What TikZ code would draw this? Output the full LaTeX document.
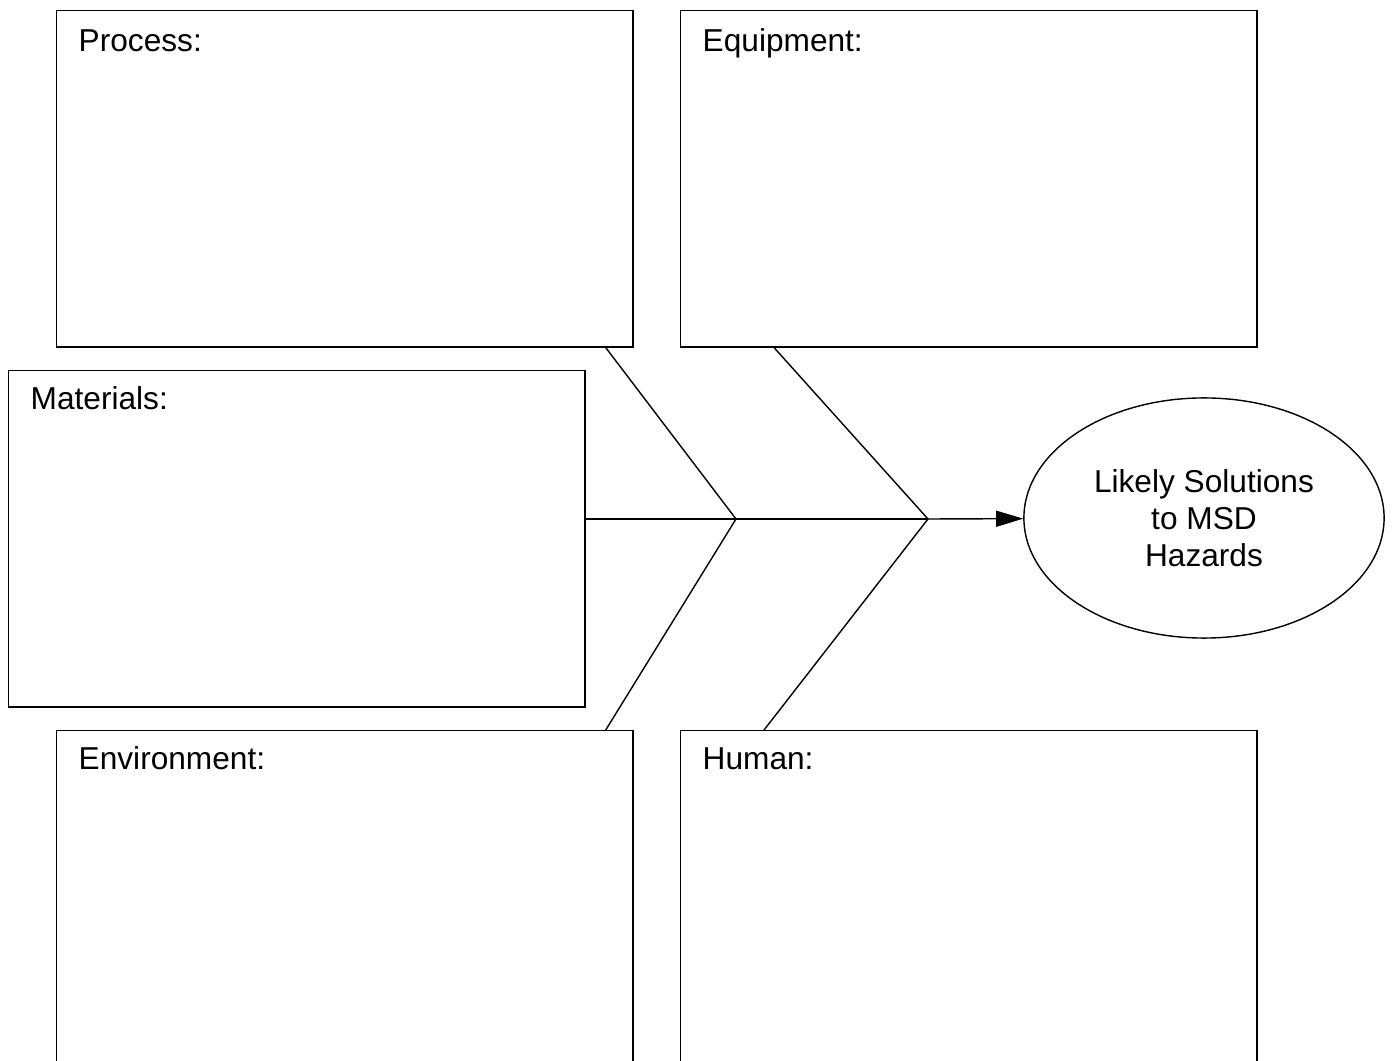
\documentclass[tikz,border=0pt]{standalone}
\usepackage{fontspec}
\setmainfont{Liberation Sans}
\usetikzlibrary{shapes.geometric,arrows.meta}
\tikzset{
	box/.style={draw, rectangle, line width=0.4pt, inner sep=0pt, anchor=north west, minimum width=5.76cm, minimum height=3.36cm},
	boxtitle/.style={anchor=base west, inner sep=0pt, font=\fontsize{9pt}{10.5pt}\selectfont},
	bone/.style={line width=0.4pt}
}
\begin{document}
\begin{tikzpicture}[x=0.01cm, y=-0.01cm]
		\clip ( 0, 0 ) rectangle ( 1393, 1061 );

		% boxes
		\node [box] (proc) at ( 56, 10 ) {};
		\node [box] (equip) at ( 680, 10 ) {};
		\node [box] (mat) at ( 8, 370 ) {};
		\node [box] (env) at ( 56, 730 ) {};
		\node [box] (human) at ( 680, 730 ) {};

		% titles
		\node [boxtitle] (procT) at ([shift={( 22, 42 )}]proc.north west) {Process:};
		\node [boxtitle] (equipT) at ([shift={( 22, 42 )}]equip.north west) {Equipment:};
		\node [boxtitle] (matT) at ([shift={( 22, 40 )}]mat.north west) {Materials:};
		\node [boxtitle] (envT) at ([shift={( 22, 40 )}]env.north west) {Environment:};
		\node [boxtitle] (humanT) at ([shift={( 22, 40 )}]human.north west) {Human:};

		% result
		\node [draw, ellipse, line width=0.4pt, inner sep=0pt, minimum width=3.6cm, minimum height=2.4cm, align=center,
			font=\fontsize{9pt}{10.5pt}\selectfont] (sol) at ( 1204, 518 ) {Likely Solutions\\to MSD\\Hazards};

		% spine
		\coordinate (j1) at ( 736, 519 );
		\coordinate (j2) at ( 928, 519 );
		\coordinate (spine) at (mat.east |- j1);
		\draw [bone] (spine) -- (j1) -- (j2);
		\draw [bone, -{Triangle[length=0.27cm, width=0.16cm]}] (j2) -- (sol);

		% ribs
		\draw [bone] ([xshift=-0.28cm]proc.south east) -- (j1);
		\draw [bone] ([xshift=-0.28cm]env.north east) -- (j1);
		\draw [bone] ([xshift=0.94cm]equip.south west) -- (j2);
		\draw [bone] ([xshift=0.84cm]human.north west) -- (j2);
	\end{tikzpicture}
\end{document}
